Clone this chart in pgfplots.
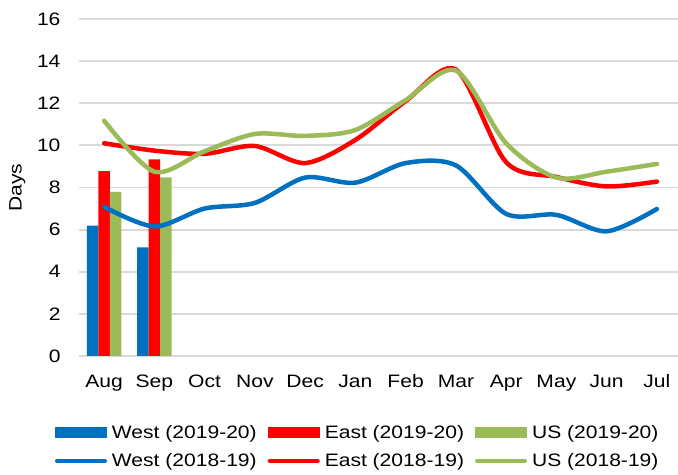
\documentclass[border=0pt]{standalone}
\usepackage{pgfplots}
\pgfplotsset{compat=1.18}
\usepackage{fontspec}
\setmainfont{Liberation Sans}[FakeStretch=1.17]
\definecolor{westc}{HTML}{0070C0}
\definecolor{eastc}{HTML}{FF0000}
\definecolor{usc}{HTML}{9BBB59}
\definecolor{gridc}{HTML}{D9D9D9}

\begin{document}
\begin{tikzpicture}
\begin{axis}[
name=ax,
scale only axis,
width=599pt, height=337pt,
xmin=-0.5, xmax=11.42,
ymin=0, ymax=16,
ytick={0,2,...,16},
xtick={0,...,11},
xticklabels={Aug,Sep,Oct,Nov,Dec,Jan,Feb,Mar,Apr,May,Jun,Jul},
major tick length=0pt,
axis line style={draw=none},
ymajorgrids,
major grid style={draw=gridc, line width=1.8pt},
tick label style={font=\fontsize{18}{21}\selectfont},
/pgf/number format/assume math mode=true,
yticklabel style={xshift=-15pt},
xticklabel style={anchor=base, yshift=-32pt},
ylabel={Days},
label style={font=\fontsize{18}{21}\selectfont},
ylabel style={at={(axis description cs:-0.103,0.5)}, anchor=center},
legend style={at={(axis description cs:0,0)}, xshift=-24pt, yshift=-69pt, anchor=north west,
  draw=none, inner sep=0pt, outer sep=0pt, font=\fontsize{18}{21}\selectfont,
  legend columns=3, row sep=14pt,
  nodes={inner sep=0pt},
  /tikz/every odd column/.append style={column sep=5pt},
  /tikz/every even column/.append style={column sep=11pt}},
legend cell align=left,
]
\addplot[ybar, bar width=11.5pt, bar shift=-11.5pt, fill=westc, draw=none,
  legend image code/.code={\fill[westc] (0pt,-5.5pt) rectangle (52pt,5.5pt);}]
  coordinates {(0,6.19) (1,5.16)};
\addlegendentry{West (2019-20)}
\addplot[ybar, bar width=11.5pt, bar shift=0pt, fill=eastc, draw=none,
  legend image code/.code={\fill[eastc] (0pt,-5.5pt) rectangle (52pt,5.5pt);}]
  coordinates {(0,8.78) (1,9.34)};
\addlegendentry{East (2019-20)}
\addplot[ybar, bar width=11.5pt, bar shift=11.5pt, fill=usc, draw=none,
  legend image code/.code={\fill[usc] (0pt,-5.5pt) rectangle (52pt,5.5pt);}]
  coordinates {(0,7.79) (1,8.48)};
\addlegendentry{US (2019-20)}
\addplot[westc, line width=4.5pt, smooth, line cap=round, mark=none,
  legend image code/.code={\draw[westc, line width=4.5pt, line cap=round] (2.25pt,0pt) -- (49.75pt,0pt);}]
  coordinates {(0,7.08) (1,6.15) (2,7.0) (3,7.27) (4,8.47) (5,8.23) (6,9.16) (7,9.05) (8,6.75) (9,6.7) (10,5.92) (11,6.98)};
\addlegendentry{West (2018-19)}
\addplot[eastc, line width=4.5pt, smooth, line cap=round, mark=none,
  legend image code/.code={\draw[eastc, line width=4.5pt, line cap=round] (2.25pt,0pt) -- (49.75pt,0pt);}]
  coordinates {(0,10.1) (1,9.75) (2,9.6) (3,9.97) (4,9.16) (5,10.26) (6,12.1) (7,13.6) (8,9.2) (9,8.5) (10,8.05) (11,8.28)};
\addlegendentry{East (2018-19)}
\addplot[usc, line width=4.5pt, smooth, line cap=round, mark=none,
  legend image code/.code={\draw[usc, line width=4.5pt, line cap=round] (2.25pt,0pt) -- (49.75pt,0pt);}]
  coordinates {(0,11.17) (1,8.75) (2,9.72) (3,10.54) (4,10.45) (5,10.73) (6,12.15) (7,13.55) (8,10.1) (9,8.47) (10,8.75) (11,9.12)};
\addlegendentry{US (2018-19)}
\end{axis}
\pgfresetboundingbox
\path ([shift={(-79pt,-119pt)}]ax.south west) rectangle ([shift={(0pt,19pt)}]ax.north east);
\end{tikzpicture}
\end{document}
